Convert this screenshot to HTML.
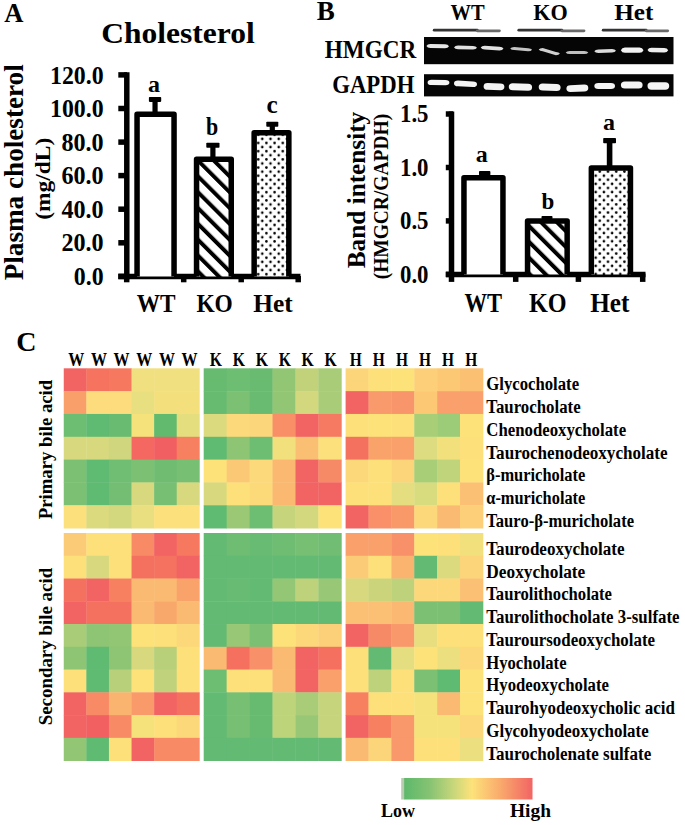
<!DOCTYPE html>
<html><head><meta charset="utf-8"><style>
html,body{margin:0;padding:0;background:#fff;width:685px;height:825px;overflow:hidden}
svg{display:block}
text{font-family:"Liberation Serif",serif;font-weight:bold}
</style></head><body>
<svg width="685" height="825" viewBox="0 0 685 825" style="font-family:'Liberation Serif',serif;font-weight:bold;">
<defs>
<filter id="bl" x="-10%" y="-50%" width="120%" height="200%"><feGaussianBlur stdDeviation="0.6"/></filter>
<pattern id="hatchA" patternUnits="userSpaceOnUse" x="2.1" width="11.2" height="11.2" patternTransform="rotate(-45)">
<rect x="-1" y="-1" width="13.2" height="13.2" fill="#fff"/><rect x="0" y="-1" width="4.0" height="13.2" fill="#000"/></pattern>
<pattern id="hatchB" patternUnits="userSpaceOnUse" x="-0.5" width="11.2" height="11.2" patternTransform="rotate(-45)">
<rect x="-1" y="-1" width="13.2" height="13.2" fill="#fff"/><rect x="0" y="-1" width="4.0" height="13.2" fill="#000"/></pattern>
<pattern id="dotsA" patternUnits="userSpaceOnUse" width="8.2" height="8.2" x="262.3" y="138.9">
<rect width="8.2" height="8.2" fill="#fff"/><circle cx="0" cy="0" r="1.3" fill="#000"/><circle cx="8.2" cy="0" r="1.3" fill="#000"/><circle cx="0" cy="8.2" r="1.3" fill="#000"/><circle cx="8.2" cy="8.2" r="1.3" fill="#000"/><circle cx="4.1" cy="4.1" r="1.3" fill="#000"/></pattern>
<pattern id="dotsB" patternUnits="userSpaceOnUse" width="8.2" height="8.2" x="603.9" y="175.7">
<rect width="8.2" height="8.2" fill="#fff"/><circle cx="0" cy="0" r="1.3" fill="#000"/><circle cx="8.2" cy="0" r="1.3" fill="#000"/><circle cx="0" cy="8.2" r="1.3" fill="#000"/><circle cx="8.2" cy="8.2" r="1.3" fill="#000"/><circle cx="4.1" cy="4.1" r="1.3" fill="#000"/></pattern>
<linearGradient id="cb" x1="0" x2="1" y1="0" y2="0">
<stop offset="0" stop-color="#5cb86b"/><stop offset="0.2" stop-color="#86c373"/><stop offset="0.4" stop-color="#cdd87b"/>
<stop offset="0.53" stop-color="#fde27a"/><stop offset="0.75" stop-color="#f9aa6c"/><stop offset="1" stop-color="#f26464"/></linearGradient></defs>
<rect width="685" height="825" fill="#fff"/>
<rect x="63.75" y="368.30" width="22.99" height="23.23" fill="#f26464"/><rect x="86.34" y="368.30" width="22.99" height="23.23" fill="#f5735f"/><rect x="108.93" y="368.30" width="22.99" height="23.23" fill="#f6795f"/><rect x="131.53" y="368.30" width="22.99" height="23.23" fill="#f1e07f"/><rect x="154.12" y="368.30" width="22.99" height="23.23" fill="#f1e07f"/><rect x="176.71" y="368.30" width="22.99" height="23.23" fill="#f1e07f"/><rect x="63.75" y="391.13" width="22.99" height="23.23" fill="#f99f6a"/><rect x="86.34" y="391.13" width="22.99" height="23.23" fill="#fcdc7c"/><rect x="108.93" y="391.13" width="22.99" height="23.23" fill="#fcdc7c"/><rect x="131.53" y="391.13" width="22.99" height="23.23" fill="#e8df80"/><rect x="154.12" y="391.13" width="22.99" height="23.23" fill="#f3e07d"/><rect x="176.71" y="391.13" width="22.99" height="23.23" fill="#f3e07d"/><rect x="63.75" y="413.96" width="22.99" height="23.23" fill="#6dbd72"/><rect x="86.34" y="413.96" width="22.99" height="23.23" fill="#5fba72"/><rect x="108.93" y="413.96" width="22.99" height="23.23" fill="#68bb70"/><rect x="131.53" y="413.96" width="22.99" height="23.23" fill="#f5e27a"/><rect x="154.12" y="413.96" width="22.99" height="23.23" fill="#62ba6f"/><rect x="176.71" y="413.96" width="22.99" height="23.23" fill="#e4de7e"/><rect x="63.75" y="436.79" width="22.99" height="23.23" fill="#d8d97e"/><rect x="86.34" y="436.79" width="22.99" height="23.23" fill="#d8d97e"/><rect x="108.93" y="436.79" width="22.99" height="23.23" fill="#cfd67d"/><rect x="131.53" y="436.79" width="22.99" height="23.23" fill="#f56862"/><rect x="154.12" y="436.79" width="22.99" height="23.23" fill="#f25f62"/><rect x="176.71" y="436.79" width="22.99" height="23.23" fill="#f6805f"/><rect x="63.75" y="459.61" width="22.99" height="23.23" fill="#7bc073"/><rect x="86.34" y="459.61" width="22.99" height="23.23" fill="#5fba72"/><rect x="108.93" y="459.61" width="22.99" height="23.23" fill="#70be73"/><rect x="131.53" y="459.61" width="22.99" height="23.23" fill="#7bc073"/><rect x="154.12" y="459.61" width="22.99" height="23.23" fill="#70bd72"/><rect x="176.71" y="459.61" width="22.99" height="23.23" fill="#76bf73"/><rect x="63.75" y="482.44" width="22.99" height="23.23" fill="#7bc073"/><rect x="86.34" y="482.44" width="22.99" height="23.23" fill="#5fba72"/><rect x="108.93" y="482.44" width="22.99" height="23.23" fill="#73be73"/><rect x="131.53" y="482.44" width="22.99" height="23.23" fill="#d8d97e"/><rect x="154.12" y="482.44" width="22.99" height="23.23" fill="#76bf73"/><rect x="176.71" y="482.44" width="22.99" height="23.23" fill="#d8d97e"/><rect x="63.75" y="505.27" width="22.99" height="23.23" fill="#fbe07c"/><rect x="86.34" y="505.27" width="22.99" height="23.23" fill="#dcda7e"/><rect x="108.93" y="505.27" width="22.99" height="23.23" fill="#d3d77d"/><rect x="131.53" y="505.27" width="22.99" height="23.23" fill="#e9de80"/><rect x="154.12" y="505.27" width="22.99" height="23.23" fill="#fbe07c"/><rect x="176.71" y="505.27" width="22.99" height="23.23" fill="#fbe07c"/><rect x="63.75" y="533.00" width="22.99" height="23.16" fill="#fccb78"/><rect x="86.34" y="533.00" width="22.99" height="23.16" fill="#fde07a"/><rect x="108.93" y="533.00" width="22.99" height="23.16" fill="#fde07a"/><rect x="131.53" y="533.00" width="22.99" height="23.16" fill="#f88a66"/><rect x="154.12" y="533.00" width="22.99" height="23.16" fill="#f26464"/><rect x="176.71" y="533.00" width="22.99" height="23.16" fill="#f6785f"/><rect x="63.75" y="555.76" width="22.99" height="23.16" fill="#fde07a"/><rect x="86.34" y="555.76" width="22.99" height="23.16" fill="#d8d97e"/><rect x="108.93" y="555.76" width="22.99" height="23.16" fill="#fde07a"/><rect x="131.53" y="555.76" width="22.99" height="23.16" fill="#f4705f"/><rect x="154.12" y="555.76" width="22.99" height="23.16" fill="#f4725f"/><rect x="176.71" y="555.76" width="22.99" height="23.16" fill="#f26464"/><rect x="63.75" y="578.52" width="22.99" height="23.16" fill="#f4705f"/><rect x="86.34" y="578.52" width="22.99" height="23.16" fill="#f26464"/><rect x="108.93" y="578.52" width="22.99" height="23.16" fill="#f6805f"/><rect x="131.53" y="578.52" width="22.99" height="23.16" fill="#fbba72"/><rect x="154.12" y="578.52" width="22.99" height="23.16" fill="#fbba72"/><rect x="176.71" y="578.52" width="22.99" height="23.16" fill="#f9a36b"/><rect x="63.75" y="601.28" width="22.99" height="23.16" fill="#f26464"/><rect x="86.34" y="601.28" width="22.99" height="23.16" fill="#f4705f"/><rect x="108.93" y="601.28" width="22.99" height="23.16" fill="#f4705f"/><rect x="131.53" y="601.28" width="22.99" height="23.16" fill="#fbba72"/><rect x="154.12" y="601.28" width="22.99" height="23.16" fill="#f9a86c"/><rect x="176.71" y="601.28" width="22.99" height="23.16" fill="#fbba72"/><rect x="63.75" y="624.04" width="22.99" height="23.16" fill="#a8cc77"/><rect x="86.34" y="624.04" width="22.99" height="23.16" fill="#8dc575"/><rect x="108.93" y="624.04" width="22.99" height="23.16" fill="#92c674"/><rect x="131.53" y="624.04" width="22.99" height="23.16" fill="#fde27a"/><rect x="154.12" y="624.04" width="22.99" height="23.16" fill="#fde07a"/><rect x="176.71" y="624.04" width="22.99" height="23.16" fill="#fcd87a"/><rect x="63.75" y="646.80" width="22.99" height="23.16" fill="#8dc575"/><rect x="86.34" y="646.80" width="22.99" height="23.16" fill="#5fba72"/><rect x="108.93" y="646.80" width="22.99" height="23.16" fill="#8dc575"/><rect x="131.53" y="646.80" width="22.99" height="23.16" fill="#d8d97e"/><rect x="154.12" y="646.80" width="22.99" height="23.16" fill="#b8d07a"/><rect x="176.71" y="646.80" width="22.99" height="23.16" fill="#fde07a"/><rect x="63.75" y="669.56" width="22.99" height="23.16" fill="#fde07a"/><rect x="86.34" y="669.56" width="22.99" height="23.16" fill="#5fba72"/><rect x="108.93" y="669.56" width="22.99" height="23.16" fill="#b8d07a"/><rect x="131.53" y="669.56" width="22.99" height="23.16" fill="#fde27a"/><rect x="154.12" y="669.56" width="22.99" height="23.16" fill="#c0d27b"/><rect x="176.71" y="669.56" width="22.99" height="23.16" fill="#fde07a"/><rect x="63.75" y="692.32" width="22.99" height="23.16" fill="#f26464"/><rect x="86.34" y="692.32" width="22.99" height="23.16" fill="#f88a66"/><rect x="108.93" y="692.32" width="22.99" height="23.16" fill="#fbb470"/><rect x="131.53" y="692.32" width="22.99" height="23.16" fill="#f99a6b"/><rect x="154.12" y="692.32" width="22.99" height="23.16" fill="#f26464"/><rect x="176.71" y="692.32" width="22.99" height="23.16" fill="#f4705f"/><rect x="63.75" y="715.08" width="22.99" height="23.16" fill="#f26464"/><rect x="86.34" y="715.08" width="22.99" height="23.16" fill="#f26062"/><rect x="108.93" y="715.08" width="22.99" height="23.16" fill="#f88a66"/><rect x="131.53" y="715.08" width="22.99" height="23.16" fill="#f5e27a"/><rect x="154.12" y="715.08" width="22.99" height="23.16" fill="#fde07a"/><rect x="176.71" y="715.08" width="22.99" height="23.16" fill="#fcd87a"/><rect x="63.75" y="737.84" width="22.99" height="23.16" fill="#92c674"/><rect x="86.34" y="737.84" width="22.99" height="23.16" fill="#5fba72"/><rect x="108.93" y="737.84" width="22.99" height="23.16" fill="#fde07a"/><rect x="131.53" y="737.84" width="22.99" height="23.16" fill="#f26464"/><rect x="154.12" y="737.84" width="22.99" height="23.16" fill="#f88a66"/><rect x="176.71" y="737.84" width="22.99" height="23.16" fill="#f88a66"/><rect x="203.70" y="368.30" width="23.33" height="23.23" fill="#66bb70"/><rect x="226.63" y="368.30" width="23.33" height="23.23" fill="#6dbd72"/><rect x="249.57" y="368.30" width="23.33" height="23.23" fill="#68bb70"/><rect x="272.50" y="368.30" width="23.33" height="23.23" fill="#92c674"/><rect x="295.43" y="368.30" width="23.33" height="23.23" fill="#c2d27b"/><rect x="318.37" y="368.30" width="23.33" height="23.23" fill="#a8cc77"/><rect x="203.70" y="391.13" width="23.33" height="23.23" fill="#66bb70"/><rect x="226.63" y="391.13" width="23.33" height="23.23" fill="#7bc073"/><rect x="249.57" y="391.13" width="23.33" height="23.23" fill="#68bb70"/><rect x="272.50" y="391.13" width="23.33" height="23.23" fill="#92c674"/><rect x="295.43" y="391.13" width="23.33" height="23.23" fill="#d3d77d"/><rect x="318.37" y="391.13" width="23.33" height="23.23" fill="#a8cc77"/><rect x="203.70" y="413.96" width="23.33" height="23.23" fill="#dcda7e"/><rect x="226.63" y="413.96" width="23.33" height="23.23" fill="#fcd97a"/><rect x="249.57" y="413.96" width="23.33" height="23.23" fill="#fcd67a"/><rect x="272.50" y="413.96" width="23.33" height="23.23" fill="#f88f66"/><rect x="295.43" y="413.96" width="23.33" height="23.23" fill="#f26464"/><rect x="318.37" y="413.96" width="23.33" height="23.23" fill="#f67a62"/><rect x="203.70" y="436.79" width="23.33" height="23.23" fill="#5fba72"/><rect x="226.63" y="436.79" width="23.33" height="23.23" fill="#8dc575"/><rect x="249.57" y="436.79" width="23.33" height="23.23" fill="#6dbd72"/><rect x="272.50" y="436.79" width="23.33" height="23.23" fill="#f1e07c"/><rect x="295.43" y="436.79" width="23.33" height="23.23" fill="#fbbf73"/><rect x="318.37" y="436.79" width="23.33" height="23.23" fill="#fbe07c"/><rect x="203.70" y="459.61" width="23.33" height="23.23" fill="#fde27a"/><rect x="226.63" y="459.61" width="23.33" height="23.23" fill="#fbc875"/><rect x="249.57" y="459.61" width="23.33" height="23.23" fill="#fcd97a"/><rect x="272.50" y="459.61" width="23.33" height="23.23" fill="#fbb870"/><rect x="295.43" y="459.61" width="23.33" height="23.23" fill="#f26464"/><rect x="318.37" y="459.61" width="23.33" height="23.23" fill="#f78a66"/><rect x="203.70" y="482.44" width="23.33" height="23.23" fill="#d8d97e"/><rect x="226.63" y="482.44" width="23.33" height="23.23" fill="#fde07a"/><rect x="249.57" y="482.44" width="23.33" height="23.23" fill="#fcda7a"/><rect x="272.50" y="482.44" width="23.33" height="23.23" fill="#fbb870"/><rect x="295.43" y="482.44" width="23.33" height="23.23" fill="#f26464"/><rect x="318.37" y="482.44" width="23.33" height="23.23" fill="#f26464"/><rect x="203.70" y="505.27" width="23.33" height="23.23" fill="#5fba72"/><rect x="226.63" y="505.27" width="23.33" height="23.23" fill="#9ac875"/><rect x="249.57" y="505.27" width="23.33" height="23.23" fill="#6dbd72"/><rect x="272.50" y="505.27" width="23.33" height="23.23" fill="#c6d47c"/><rect x="295.43" y="505.27" width="23.33" height="23.23" fill="#d3d77d"/><rect x="318.37" y="505.27" width="23.33" height="23.23" fill="#fde27a"/><rect x="203.70" y="533.00" width="23.33" height="23.16" fill="#62ba73"/><rect x="226.63" y="533.00" width="23.33" height="23.16" fill="#6fbd73"/><rect x="249.57" y="533.00" width="23.33" height="23.16" fill="#68bb72"/><rect x="272.50" y="533.00" width="23.33" height="23.16" fill="#6fbd73"/><rect x="295.43" y="533.00" width="23.33" height="23.16" fill="#76bf73"/><rect x="318.37" y="533.00" width="23.33" height="23.16" fill="#70bd73"/><rect x="203.70" y="555.76" width="23.33" height="23.16" fill="#62ba73"/><rect x="226.63" y="555.76" width="23.33" height="23.16" fill="#62ba73"/><rect x="249.57" y="555.76" width="23.33" height="23.16" fill="#62ba73"/><rect x="272.50" y="555.76" width="23.33" height="23.16" fill="#62ba73"/><rect x="295.43" y="555.76" width="23.33" height="23.16" fill="#62ba73"/><rect x="318.37" y="555.76" width="23.33" height="23.16" fill="#62ba73"/><rect x="203.70" y="578.52" width="23.33" height="23.16" fill="#62ba73"/><rect x="226.63" y="578.52" width="23.33" height="23.16" fill="#68bb72"/><rect x="249.57" y="578.52" width="23.33" height="23.16" fill="#62ba73"/><rect x="272.50" y="578.52" width="23.33" height="23.16" fill="#94c775"/><rect x="295.43" y="578.52" width="23.33" height="23.16" fill="#bdd27b"/><rect x="318.37" y="578.52" width="23.33" height="23.16" fill="#98c875"/><rect x="203.70" y="601.28" width="23.33" height="23.16" fill="#62ba73"/><rect x="226.63" y="601.28" width="23.33" height="23.16" fill="#62ba73"/><rect x="249.57" y="601.28" width="23.33" height="23.16" fill="#62ba73"/><rect x="272.50" y="601.28" width="23.33" height="23.16" fill="#62ba73"/><rect x="295.43" y="601.28" width="23.33" height="23.16" fill="#62ba73"/><rect x="318.37" y="601.28" width="23.33" height="23.16" fill="#62ba73"/><rect x="203.70" y="624.04" width="23.33" height="23.16" fill="#62ba73"/><rect x="226.63" y="624.04" width="23.33" height="23.16" fill="#98c875"/><rect x="249.57" y="624.04" width="23.33" height="23.16" fill="#7bc073"/><rect x="272.50" y="624.04" width="23.33" height="23.16" fill="#fde27a"/><rect x="295.43" y="624.04" width="23.33" height="23.16" fill="#fcd87a"/><rect x="318.37" y="624.04" width="23.33" height="23.16" fill="#fcd078"/><rect x="203.70" y="646.80" width="23.33" height="23.16" fill="#fbba72"/><rect x="226.63" y="646.80" width="23.33" height="23.16" fill="#f5705f"/><rect x="249.57" y="646.80" width="23.33" height="23.16" fill="#f8906a"/><rect x="272.50" y="646.80" width="23.33" height="23.16" fill="#fbba72"/><rect x="295.43" y="646.80" width="23.33" height="23.16" fill="#f26464"/><rect x="318.37" y="646.80" width="23.33" height="23.16" fill="#f5705f"/><rect x="203.70" y="669.56" width="23.33" height="23.16" fill="#6dbd72"/><rect x="226.63" y="669.56" width="23.33" height="23.16" fill="#fde07a"/><rect x="249.57" y="669.56" width="23.33" height="23.16" fill="#fde07a"/><rect x="272.50" y="669.56" width="23.33" height="23.16" fill="#fbba72"/><rect x="295.43" y="669.56" width="23.33" height="23.16" fill="#f26464"/><rect x="318.37" y="669.56" width="23.33" height="23.16" fill="#f9a06b"/><rect x="203.70" y="692.32" width="23.33" height="23.16" fill="#62ba73"/><rect x="226.63" y="692.32" width="23.33" height="23.16" fill="#76bf73"/><rect x="249.57" y="692.32" width="23.33" height="23.16" fill="#66bb70"/><rect x="272.50" y="692.32" width="23.33" height="23.16" fill="#bdd47b"/><rect x="295.43" y="692.32" width="23.33" height="23.16" fill="#a8cc77"/><rect x="318.37" y="692.32" width="23.33" height="23.16" fill="#c6d47c"/><rect x="203.70" y="715.08" width="23.33" height="23.16" fill="#62ba73"/><rect x="226.63" y="715.08" width="23.33" height="23.16" fill="#76bf73"/><rect x="249.57" y="715.08" width="23.33" height="23.16" fill="#66bb70"/><rect x="272.50" y="715.08" width="23.33" height="23.16" fill="#bdd47b"/><rect x="295.43" y="715.08" width="23.33" height="23.16" fill="#98c875"/><rect x="318.37" y="715.08" width="23.33" height="23.16" fill="#c6d47c"/><rect x="203.70" y="737.84" width="23.33" height="23.16" fill="#62ba73"/><rect x="226.63" y="737.84" width="23.33" height="23.16" fill="#62ba73"/><rect x="249.57" y="737.84" width="23.33" height="23.16" fill="#62ba73"/><rect x="272.50" y="737.84" width="23.33" height="23.16" fill="#62ba73"/><rect x="295.43" y="737.84" width="23.33" height="23.16" fill="#62ba73"/><rect x="318.37" y="737.84" width="23.33" height="23.16" fill="#62ba73"/><rect x="345.60" y="368.30" width="23.28" height="23.23" fill="#fcd47a"/><rect x="368.48" y="368.30" width="23.28" height="23.23" fill="#fde07a"/><rect x="391.37" y="368.30" width="23.28" height="23.23" fill="#fde27a"/><rect x="414.25" y="368.30" width="23.28" height="23.23" fill="#fccf78"/><rect x="437.13" y="368.30" width="23.28" height="23.23" fill="#fcc874"/><rect x="460.02" y="368.30" width="23.28" height="23.23" fill="#fbc072"/><rect x="345.60" y="391.13" width="23.28" height="23.23" fill="#f26464"/><rect x="368.48" y="391.13" width="23.28" height="23.23" fill="#f89a6b"/><rect x="391.37" y="391.13" width="23.28" height="23.23" fill="#f9956a"/><rect x="414.25" y="391.13" width="23.28" height="23.23" fill="#fcc874"/><rect x="437.13" y="391.13" width="23.28" height="23.23" fill="#f9a06c"/><rect x="460.02" y="391.13" width="23.28" height="23.23" fill="#f9a06c"/><rect x="345.60" y="413.96" width="23.28" height="23.23" fill="#fde07a"/><rect x="368.48" y="413.96" width="23.28" height="23.23" fill="#fde27a"/><rect x="391.37" y="413.96" width="23.28" height="23.23" fill="#fde07a"/><rect x="414.25" y="413.96" width="23.28" height="23.23" fill="#a8cf78"/><rect x="437.13" y="413.96" width="23.28" height="23.23" fill="#9ccc77"/><rect x="460.02" y="413.96" width="23.28" height="23.23" fill="#fde27a"/><rect x="345.60" y="436.79" width="23.28" height="23.23" fill="#f4705f"/><rect x="368.48" y="436.79" width="23.28" height="23.23" fill="#f9a36b"/><rect x="391.37" y="436.79" width="23.28" height="23.23" fill="#f9a06b"/><rect x="414.25" y="436.79" width="23.28" height="23.23" fill="#dedc80"/><rect x="437.13" y="436.79" width="23.28" height="23.23" fill="#f1e07c"/><rect x="460.02" y="436.79" width="23.28" height="23.23" fill="#fde07a"/><rect x="345.60" y="459.61" width="23.28" height="23.23" fill="#fcd87a"/><rect x="368.48" y="459.61" width="23.28" height="23.23" fill="#fde07a"/><rect x="391.37" y="459.61" width="23.28" height="23.23" fill="#fcd47a"/><rect x="414.25" y="459.61" width="23.28" height="23.23" fill="#a8cf78"/><rect x="437.13" y="459.61" width="23.28" height="23.23" fill="#c0d47b"/><rect x="460.02" y="459.61" width="23.28" height="23.23" fill="#fde27a"/><rect x="345.60" y="482.44" width="23.28" height="23.23" fill="#fde07a"/><rect x="368.48" y="482.44" width="23.28" height="23.23" fill="#fde07a"/><rect x="391.37" y="482.44" width="23.28" height="23.23" fill="#e4de80"/><rect x="414.25" y="482.44" width="23.28" height="23.23" fill="#d8dc7e"/><rect x="437.13" y="482.44" width="23.28" height="23.23" fill="#fde07a"/><rect x="460.02" y="482.44" width="23.28" height="23.23" fill="#fcc074"/><rect x="345.60" y="505.27" width="23.28" height="23.23" fill="#f26464"/><rect x="368.48" y="505.27" width="23.28" height="23.23" fill="#f9906a"/><rect x="391.37" y="505.27" width="23.28" height="23.23" fill="#f99868"/><rect x="414.25" y="505.27" width="23.28" height="23.23" fill="#fcd87a"/><rect x="437.13" y="505.27" width="23.28" height="23.23" fill="#fbba72"/><rect x="460.02" y="505.27" width="23.28" height="23.23" fill="#fccf78"/><rect x="345.60" y="533.00" width="23.28" height="23.16" fill="#f9a06b"/><rect x="368.48" y="533.00" width="23.28" height="23.16" fill="#f9a06b"/><rect x="391.37" y="533.00" width="23.28" height="23.16" fill="#f8906a"/><rect x="414.25" y="533.00" width="23.28" height="23.16" fill="#fde27a"/><rect x="437.13" y="533.00" width="23.28" height="23.16" fill="#fde07a"/><rect x="460.02" y="533.00" width="23.28" height="23.16" fill="#f1e07c"/><rect x="345.60" y="555.76" width="23.28" height="23.16" fill="#fccb78"/><rect x="368.48" y="555.76" width="23.28" height="23.16" fill="#fde07a"/><rect x="391.37" y="555.76" width="23.28" height="23.16" fill="#fbb470"/><rect x="414.25" y="555.76" width="23.28" height="23.16" fill="#62ba73"/><rect x="437.13" y="555.76" width="23.28" height="23.16" fill="#dcda7e"/><rect x="460.02" y="555.76" width="23.28" height="23.16" fill="#fcd47a"/><rect x="345.60" y="578.52" width="23.28" height="23.16" fill="#d8d97e"/><rect x="368.48" y="578.52" width="23.28" height="23.16" fill="#ccd47b"/><rect x="391.37" y="578.52" width="23.28" height="23.16" fill="#bdd27b"/><rect x="414.25" y="578.52" width="23.28" height="23.16" fill="#fcd87a"/><rect x="437.13" y="578.52" width="23.28" height="23.16" fill="#fcd87a"/><rect x="460.02" y="578.52" width="23.28" height="23.16" fill="#fbc074"/><rect x="345.60" y="601.28" width="23.28" height="23.16" fill="#fbc074"/><rect x="368.48" y="601.28" width="23.28" height="23.16" fill="#fbc074"/><rect x="391.37" y="601.28" width="23.28" height="23.16" fill="#fbb872"/><rect x="414.25" y="601.28" width="23.28" height="23.16" fill="#7bc073"/><rect x="437.13" y="601.28" width="23.28" height="23.16" fill="#7bc073"/><rect x="460.02" y="601.28" width="23.28" height="23.16" fill="#62ba73"/><rect x="345.60" y="624.04" width="23.28" height="23.16" fill="#f26464"/><rect x="368.48" y="624.04" width="23.28" height="23.16" fill="#f78a66"/><rect x="391.37" y="624.04" width="23.28" height="23.16" fill="#f9986a"/><rect x="414.25" y="624.04" width="23.28" height="23.16" fill="#e8de80"/><rect x="437.13" y="624.04" width="23.28" height="23.16" fill="#fde07a"/><rect x="460.02" y="624.04" width="23.28" height="23.16" fill="#fde07a"/><rect x="345.60" y="646.80" width="23.28" height="23.16" fill="#fde07a"/><rect x="368.48" y="646.80" width="23.28" height="23.16" fill="#62ba73"/><rect x="391.37" y="646.80" width="23.28" height="23.16" fill="#e4de80"/><rect x="414.25" y="646.80" width="23.28" height="23.16" fill="#fde27a"/><rect x="437.13" y="646.80" width="23.28" height="23.16" fill="#ecdf80"/><rect x="460.02" y="646.80" width="23.28" height="23.16" fill="#fcd87a"/><rect x="345.60" y="669.56" width="23.28" height="23.16" fill="#fde07a"/><rect x="368.48" y="669.56" width="23.28" height="23.16" fill="#bdd27b"/><rect x="391.37" y="669.56" width="23.28" height="23.16" fill="#fde07a"/><rect x="414.25" y="669.56" width="23.28" height="23.16" fill="#7bc073"/><rect x="437.13" y="669.56" width="23.28" height="23.16" fill="#5fba72"/><rect x="460.02" y="669.56" width="23.28" height="23.16" fill="#fde27a"/><rect x="345.60" y="692.32" width="23.28" height="23.16" fill="#f6805f"/><rect x="368.48" y="692.32" width="23.28" height="23.16" fill="#fde07a"/><rect x="391.37" y="692.32" width="23.28" height="23.16" fill="#fde07a"/><rect x="414.25" y="692.32" width="23.28" height="23.16" fill="#f5e27a"/><rect x="437.13" y="692.32" width="23.28" height="23.16" fill="#fbba72"/><rect x="460.02" y="692.32" width="23.28" height="23.16" fill="#fde27a"/><rect x="345.60" y="715.08" width="23.28" height="23.16" fill="#f26464"/><rect x="368.48" y="715.08" width="23.28" height="23.16" fill="#f6805f"/><rect x="391.37" y="715.08" width="23.28" height="23.16" fill="#f9986a"/><rect x="414.25" y="715.08" width="23.28" height="23.16" fill="#f5e27a"/><rect x="437.13" y="715.08" width="23.28" height="23.16" fill="#f5e27a"/><rect x="460.02" y="715.08" width="23.28" height="23.16" fill="#fcd87a"/><rect x="345.60" y="737.84" width="23.28" height="23.16" fill="#fbba72"/><rect x="368.48" y="737.84" width="23.28" height="23.16" fill="#fcd47a"/><rect x="391.37" y="737.84" width="23.28" height="23.16" fill="#f9986a"/><rect x="414.25" y="737.84" width="23.28" height="23.16" fill="#fde07a"/><rect x="437.13" y="737.84" width="23.28" height="23.16" fill="#fde07a"/><rect x="460.02" y="737.84" width="23.28" height="23.16" fill="#ecdf80"/><rect x="404" y="778" width="128.5" height="21.5" fill="url(#cb)"/><rect x="401.2" y="778" width="3" height="21.5" fill="#b8cdb0"/>
<line x1="118.3" y1="276.4" x2="127" y2="276.4" stroke="#000" stroke-width="5.5"/><line x1="118.3" y1="242.8" x2="127" y2="242.8" stroke="#000" stroke-width="5.5"/><line x1="118.3" y1="209.2" x2="127" y2="209.2" stroke="#000" stroke-width="5.5"/><line x1="118.3" y1="175.6" x2="127" y2="175.6" stroke="#000" stroke-width="5.5"/><line x1="118.3" y1="142.1" x2="127" y2="142.1" stroke="#000" stroke-width="5.5"/><line x1="118.3" y1="108.5" x2="127" y2="108.5" stroke="#000" stroke-width="5.5"/><line x1="118.3" y1="74.9" x2="127" y2="74.9" stroke="#000" stroke-width="5.5"/><line x1="126.8" y1="72.2" x2="126.8" y2="279.2" stroke="#000" stroke-width="5.5"/><line x1="118.3" y1="276.4" x2="300.5" y2="276.4" stroke="#000" stroke-width="5.5"/><line x1="126.7" y1="276" x2="126.7" y2="282.3" stroke="#000" stroke-width="5.5"/><line x1="183.7" y1="276" x2="183.7" y2="282.3" stroke="#000" stroke-width="5.5"/><line x1="241.2" y1="276" x2="241.2" y2="282.3" stroke="#000" stroke-width="5.5"/><line x1="298.2" y1="276" x2="298.2" y2="282.3" stroke="#000" stroke-width="5.5"/><line x1="155.05" y1="113.40" x2="155.05" y2="99.40" stroke="#000" stroke-width="5.2"/><rect x="148.90" y="96.90" width="12.30" height="5.0" rx="0.8" fill="#000"/><path d="M137.05,276.4 V114.15 H174.05 V276.4" fill="#fff" stroke="#000" stroke-width="5.5" stroke-linejoin="round"/><line x1="212.90" y1="158.60" x2="212.90" y2="145.30" stroke="#000" stroke-width="5.2"/><rect x="206.30" y="142.80" width="13.20" height="5.0" rx="0.8" fill="#000"/><path d="M196.55,276.4 V159.35 H231.25 V276.4" fill="url(#hatchA)" stroke="#000" stroke-width="5.5" stroke-linejoin="round"/><line x1="272.30" y1="132.00" x2="272.30" y2="124.30" stroke="#000" stroke-width="5.2"/><rect x="266.30" y="121.80" width="12.00" height="5.0" rx="0.8" fill="#000"/><path d="M254.15,276.4 V132.75 H288.85 V276.4" fill="url(#dotsA)" stroke="#000" stroke-width="5.5" stroke-linejoin="round"/>
<line x1="434.2" y1="30.2" x2="477.3" y2="30.2" stroke="#333" stroke-width="2.8" stroke-linecap="round"/><line x1="477.3" y1="30.8" x2="499.4" y2="30.8" stroke="#6a6a6a" stroke-width="2.8" stroke-linecap="round"/><line x1="518.8" y1="30.2" x2="561.9" y2="30.2" stroke="#333" stroke-width="2.8" stroke-linecap="round"/><line x1="561.9" y1="30.8" x2="584" y2="30.8" stroke="#6a6a6a" stroke-width="2.8" stroke-linecap="round"/><line x1="603.2" y1="30.2" x2="646.2" y2="30.2" stroke="#333" stroke-width="2.8" stroke-linecap="round"/><line x1="646.2" y1="30.8" x2="667.7" y2="30.8" stroke="#6a6a6a" stroke-width="2.8" stroke-linecap="round"/><rect x="424" y="37" width="249.5" height="27.2" fill="#050505"/><rect x="424" y="74.2" width="249.5" height="22.2" fill="#050505"/><g filter="url(#bl)"><path d="M426.4,46.0 Q427.4,44.0 430.4,44.0 L445.0,44.3 Q448.0,44.3 449.0,46.3 Q448.0,48.3 445.0,48.3 L430.4,48.0 Q427.4,48.0 426.4,46.0Z" fill="#e8e8e8"/><path d="M454,47.4 Q455,45.6 458,45.6 L473,46.0 Q476,46.0 477,47.8 Q476,49.599999999999994 473,49.599999999999994 L458,49.199999999999996 Q455,49.199999999999996 454,47.4Z" fill="#e0e0e0"/><path d="M480.7,47.6 Q481.7,45.7 484.7,45.7 L499.5,46.7 Q502.5,46.7 503.5,48.6 Q502.5,50.5 499.5,50.5 L484.7,49.5 Q481.7,49.5 480.7,47.6Z" fill="#e2e2e2"/><path d="M510.2,48.4 Q511.2,46.9 514.2,46.9 L528.1,48.3 Q531.1,48.3 532.1,49.8 Q531.1,51.3 528.1,51.3 L514.2,49.9 Q511.2,49.9 510.2,48.4Z" fill="#c4c4c4"/><path d="M538.7,49.6 Q539.7,47.9 542.7,47.9 L555.9,51.9 Q558.9,51.9 559.9,53.6 Q558.9,55.300000000000004 555.9,55.300000000000004 L542.7,51.300000000000004 Q539.7,51.300000000000004 538.7,49.6Z" fill="#d0d0d0"/><path d="M565.7,52.6 Q566.7,51.1 569.7,51.1 L584.3,51.1 Q587.3,51.1 588.3,52.6 Q587.3,54.1 584.3,54.1 L569.7,54.1 Q566.7,54.1 565.7,52.6Z" fill="#c0c0c0"/><path d="M594.3,51.2 Q595.3,49.400000000000006 598.3,49.400000000000006 L612,49.0 Q615,49.0 616,50.8 Q615,52.599999999999994 612,52.599999999999994 L598.3,53.0 Q595.3,53.0 594.3,51.2Z" fill="#dcdcdc"/><path d="M620.9,50.2 Q621.9,47.6 624.9,47.6 L639.5,47.6 Q642.5,47.6 643.5,50.2 Q642.5,52.800000000000004 639.5,52.800000000000004 L624.9,52.800000000000004 Q621.9,52.800000000000004 620.9,50.2Z" fill="#f2f2f2"/><path d="M647.5,50 Q648.5,47.7 651.5,47.7 L664.2,47.900000000000006 Q667.2,47.900000000000006 668.2,50.2 Q667.2,52.5 664.2,52.5 L651.5,52.3 Q648.5,52.3 647.5,50Z" fill="#eeeeee"/><path d="M427.6,82.4 Q427.6,79.7 431.6,79.7 L445.4,79.89999999999999 Q449.4,79.89999999999999 449.4,82.6 Q449.4,85.3 445.4,85.3 L431.6,85.10000000000001 Q427.6,85.10000000000001 427.6,82.4Z" fill="#f4f4f4"/><path d="M454,83.4 Q454,80.60000000000001 458,80.60000000000001 L473,81.4 Q477,81.4 477,84.2 Q477,87.0 473,87.0 L458,86.2 Q454,86.2 454,83.4Z" fill="#f4f4f4"/><path d="M483.6,86.4 Q483.6,83.0 487.6,83.0 L500.4,83.39999999999999 Q504.4,83.39999999999999 504.4,86.8 Q504.4,90.2 500.4,90.2 L487.6,89.80000000000001 Q483.6,89.80000000000001 483.6,86.4Z" fill="#f4f4f4"/><path d="M508.8,86.8 Q508.8,83.3 512.8,83.3 L528.1,83.7 Q532.1,83.7 532.1,87.2 Q532.1,90.7 528.1,90.7 L512.8,90.3 Q508.8,90.3 508.8,86.8Z" fill="#f4f4f4"/><path d="M538.7,87 Q538.7,83.5 542.7,83.5 L556.6,83.9 Q560.6,83.9 560.6,87.4 Q560.6,90.9 556.6,90.9 L542.7,90.5 Q538.7,90.5 538.7,87Z" fill="#f4f4f4"/><path d="M566.4,88.6 Q566.4,85.19999999999999 570.4,85.19999999999999 L584.3,84.6 Q588.3,84.6 588.3,88 Q588.3,91.4 584.3,91.4 L570.4,92.0 Q566.4,92.0 566.4,88.6Z" fill="#f4f4f4"/><path d="M594.3,86 Q594.3,83.0 598.3,83.0 L611,83.0 Q615,83.0 615,86 Q615,89.0 611,89.0 L598.3,89.0 Q594.3,89.0 594.3,86Z" fill="#f4f4f4"/><path d="M620.9,85 Q620.9,81.5 624.9,81.5 L638.6,81.5 Q642.6,81.5 642.6,85 Q642.6,88.5 638.6,88.5 L624.9,88.5 Q620.9,88.5 620.9,85Z" fill="#f4f4f4"/><path d="M647.5,86 Q647.5,82.3 651.5,82.3 L665.2,82.3 Q669.2,82.3 669.2,86 Q669.2,89.7 665.2,89.7 L651.5,89.7 Q647.5,89.7 647.5,86Z" fill="#f4f4f4"/></g><line x1="445.8" y1="274.4" x2="453" y2="274.4" stroke="#000" stroke-width="5.5"/><line x1="445.8" y1="220.9" x2="453" y2="220.9" stroke="#000" stroke-width="5.5"/><line x1="445.8" y1="167.5" x2="453" y2="167.5" stroke="#000" stroke-width="5.5"/><line x1="445.8" y1="114.0" x2="453" y2="114.0" stroke="#000" stroke-width="5.5"/><line x1="451.5" y1="111.4" x2="451.5" y2="277" stroke="#000" stroke-width="5.5"/><line x1="445.8" y1="274.4" x2="645.5" y2="274.4" stroke="#000" stroke-width="5.5"/><line x1="451.5" y1="273.5" x2="451.5" y2="281.9" stroke="#000" stroke-width="5.5"/><line x1="515.7" y1="273.5" x2="515.7" y2="281.9" stroke="#000" stroke-width="5.5"/><line x1="578.4" y1="273.5" x2="578.4" y2="281.9" stroke="#000" stroke-width="5.5"/><line x1="642.7" y1="273.5" x2="642.7" y2="281.9" stroke="#000" stroke-width="5.5"/><line x1="484.70" y1="177.00" x2="484.70" y2="173.20" stroke="#000" stroke-width="5.2"/><rect x="479.00" y="171.10" width="11.40" height="4.2" rx="0.8" fill="#000"/><path d="M463.95,274.4 V177.75 H502.95 V274.4" fill="#fff" stroke="#000" stroke-width="5.5" stroke-linejoin="round"/><line x1="547.00" y1="220.30" x2="547.00" y2="217.60" stroke="#000" stroke-width="5.2"/><rect x="541.50" y="216.10" width="11.00" height="3" rx="0.8" fill="#000"/><path d="M527.55,274.4 V221.05 H567.15 V274.4" fill="url(#hatchB)" stroke="#000" stroke-width="5.5" stroke-linejoin="round"/><line x1="609.60" y1="167.20" x2="609.60" y2="140.60" stroke="#000" stroke-width="5.6"/><rect x="603.20" y="138.00" width="12.80" height="5.2" rx="0.8" fill="#000"/><path d="M591.35,274.4 V167.95 H630.45 V274.4" fill="url(#dotsB)" stroke="#000" stroke-width="5.5" stroke-linejoin="round"/>
<text x="76.20" y="365.6" font-size="18" text-anchor="middle" textLength="16" lengthAdjust="spacingAndGlyphs" fill="#000">W</text><text x="98.88" y="365.6" font-size="18" text-anchor="middle" textLength="16" lengthAdjust="spacingAndGlyphs" fill="#000">W</text><text x="121.56" y="365.6" font-size="18" text-anchor="middle" textLength="16" lengthAdjust="spacingAndGlyphs" fill="#000">W</text><text x="144.24" y="365.6" font-size="18" text-anchor="middle" textLength="16" lengthAdjust="spacingAndGlyphs" fill="#000">W</text><text x="166.92" y="365.6" font-size="18" text-anchor="middle" textLength="16" lengthAdjust="spacingAndGlyphs" fill="#000">W</text><text x="189.60" y="365.6" font-size="18" text-anchor="middle" textLength="16" lengthAdjust="spacingAndGlyphs" fill="#000">W</text><text x="215.90" y="365.6" font-size="18" text-anchor="middle" textLength="12.2" lengthAdjust="spacingAndGlyphs" fill="#000">K</text><text x="238.85" y="365.6" font-size="18" text-anchor="middle" textLength="12.2" lengthAdjust="spacingAndGlyphs" fill="#000">K</text><text x="261.80" y="365.6" font-size="18" text-anchor="middle" textLength="12.2" lengthAdjust="spacingAndGlyphs" fill="#000">K</text><text x="284.75" y="365.6" font-size="18" text-anchor="middle" textLength="12.2" lengthAdjust="spacingAndGlyphs" fill="#000">K</text><text x="307.70" y="365.6" font-size="18" text-anchor="middle" textLength="12.2" lengthAdjust="spacingAndGlyphs" fill="#000">K</text><text x="330.65" y="365.6" font-size="18" text-anchor="middle" textLength="12.2" lengthAdjust="spacingAndGlyphs" fill="#000">K</text><text x="355.70" y="365.6" font-size="18" text-anchor="middle" textLength="12" lengthAdjust="spacingAndGlyphs" fill="#000">H</text><text x="378.80" y="365.6" font-size="18" text-anchor="middle" textLength="12" lengthAdjust="spacingAndGlyphs" fill="#000">H</text><text x="401.90" y="365.6" font-size="18" text-anchor="middle" textLength="12" lengthAdjust="spacingAndGlyphs" fill="#000">H</text><text x="425.00" y="365.6" font-size="18" text-anchor="middle" textLength="12" lengthAdjust="spacingAndGlyphs" fill="#000">H</text><text x="448.10" y="365.6" font-size="18" text-anchor="middle" textLength="12" lengthAdjust="spacingAndGlyphs" fill="#000">H</text><text x="471.20" y="365.6" font-size="18" text-anchor="middle" textLength="12" lengthAdjust="spacingAndGlyphs" fill="#000">H</text><text x="486.3" y="390.1" font-size="18.5" textLength="92.8" lengthAdjust="spacingAndGlyphs" fill="#000">Glycocholate</text><text x="486.3" y="413.0" font-size="18.5" textLength="94.3" lengthAdjust="spacingAndGlyphs" fill="#000">Taurocholate</text><text x="486.3" y="435.8" font-size="18.5" textLength="139.8" lengthAdjust="spacingAndGlyphs" fill="#000">Chenodeoxycholate</text><text x="486.3" y="458.6" font-size="18.5" textLength="181.3" lengthAdjust="spacingAndGlyphs" fill="#000">Taurochenodeoxycholate</text><text x="486.3" y="481.4" font-size="18.5" textLength="99.0" lengthAdjust="spacingAndGlyphs" fill="#000">&#946;-muricholate</text><text x="486.3" y="504.3" font-size="18.5" textLength="99.0" lengthAdjust="spacingAndGlyphs" fill="#000">&#945;-muricholate</text><text x="486.3" y="527.1" font-size="18.5" textLength="147.7" lengthAdjust="spacingAndGlyphs" fill="#000">Tauro-&#946;-muricholate</text><text x="486.3" y="554.8" font-size="18.5" textLength="138.3" lengthAdjust="spacingAndGlyphs" fill="#000">Taurodeoxycholate</text><text x="486.3" y="577.5" font-size="18.5" textLength="99.0" lengthAdjust="spacingAndGlyphs" fill="#000">Deoxycholate</text><text x="486.3" y="600.3" font-size="18.5" textLength="125.7" lengthAdjust="spacingAndGlyphs" fill="#000">Taurolithocholate</text><text x="486.3" y="623.0" font-size="18.5" textLength="193.2" lengthAdjust="spacingAndGlyphs" fill="#000">Taurolithocholate 3-sulfate</text><text x="486.3" y="645.8" font-size="18.5" textLength="168.7" lengthAdjust="spacingAndGlyphs" fill="#000">Tauroursodeoxycholate</text><text x="486.3" y="668.6" font-size="18.5" textLength="80.2" lengthAdjust="spacingAndGlyphs" fill="#000">Hyocholate</text><text x="486.3" y="691.3" font-size="18.5" textLength="122.6" lengthAdjust="spacingAndGlyphs" fill="#000">Hyodeoxycholate</text><text x="486.3" y="714.1" font-size="18.5" textLength="188.5" lengthAdjust="spacingAndGlyphs" fill="#000">Taurohyodeoxycholic acid</text><text x="486.3" y="736.8" font-size="18.5" textLength="162.4" lengthAdjust="spacingAndGlyphs" fill="#000">Glycohyodeoxycholate</text><text x="486.3" y="759.6" font-size="18.5" textLength="164.9" lengthAdjust="spacingAndGlyphs" fill="#000">Taurocholenate sulfate</text><text x="16.2" y="351.3" font-size="28" fill="#000">C</text><text transform="translate(51.5,449.5) rotate(-90)" font-size="19.5" text-anchor="middle" textLength="139.5" lengthAdjust="spacingAndGlyphs">Primary bile acid</text><text transform="translate(51.5,646.6) rotate(-90)" font-size="19.5" text-anchor="middle" textLength="157.5" lengthAdjust="spacingAndGlyphs">Secondary bile acid</text><text x="381" y="817" font-size="18" textLength="34" lengthAdjust="spacingAndGlyphs" fill="#000">Low</text><text x="510" y="817" font-size="18" textLength="41" lengthAdjust="spacingAndGlyphs" fill="#000">High</text><text x="4.3" y="22.3" font-size="26.5" fill="#000">A</text><text x="101.2" y="43" font-size="29" textLength="153.5" lengthAdjust="spacingAndGlyphs" fill="#000">Cholesterol</text><text x="103.6" y="285.0" font-size="25.5" text-anchor="end" textLength="29.8" lengthAdjust="spacingAndGlyphs" fill="#000">0.0</text><text x="103.6" y="251.4" font-size="25.5" text-anchor="end" textLength="42.2" lengthAdjust="spacingAndGlyphs" fill="#000">20.0</text><text x="103.6" y="217.8" font-size="25.5" text-anchor="end" textLength="42.2" lengthAdjust="spacingAndGlyphs" fill="#000">40.0</text><text x="103.6" y="184.2" font-size="25.5" text-anchor="end" textLength="42.2" lengthAdjust="spacingAndGlyphs" fill="#000">60.0</text><text x="103.6" y="150.7" font-size="25.5" text-anchor="end" textLength="42.2" lengthAdjust="spacingAndGlyphs" fill="#000">80.0</text><text x="103.6" y="117.1" font-size="25.5" text-anchor="end" textLength="53.6" lengthAdjust="spacingAndGlyphs" fill="#000">100.0</text><text x="103.6" y="83.5" font-size="25.5" text-anchor="end" textLength="53.6" lengthAdjust="spacingAndGlyphs" fill="#000">120.0</text><text x="154" y="92" font-size="24" text-anchor="middle" fill="#000">a</text><text x="212" y="135.0" font-size="26" text-anchor="middle" textLength="12.2" lengthAdjust="spacingAndGlyphs" fill="#000">b</text><text x="272.2" y="112.8" font-size="25.5" text-anchor="middle" textLength="11.2" lengthAdjust="spacingAndGlyphs" fill="#000">c</text><text x="136.8" y="311.5" font-size="26" textLength="38.8" lengthAdjust="spacingAndGlyphs" fill="#000">WT</text><text x="196.4" y="311.5" font-size="26" textLength="36.4" lengthAdjust="spacingAndGlyphs" fill="#000">KO</text><text x="253.3" y="311.5" font-size="26" textLength="39.4" lengthAdjust="spacingAndGlyphs" fill="#000">Het</text><text transform="translate(22.5,172.3) rotate(-90)" font-size="27" text-anchor="middle" textLength="216" lengthAdjust="spacingAndGlyphs">Plasma cholesterol</text><text transform="translate(50.3,178.8) rotate(-90)" font-size="22" text-anchor="middle" textLength="82" lengthAdjust="spacingAndGlyphs">(mg/dL)</text><text x="316.8" y="20.2" font-size="27" fill="#000">B</text><text x="450.4" y="20.4" font-size="23" textLength="34.2" lengthAdjust="spacingAndGlyphs" fill="#000">WT</text><text x="533.2" y="20.4" font-size="23" textLength="34.5" lengthAdjust="spacingAndGlyphs" fill="#000">KO</text><text x="614.2" y="20.4" font-size="23" textLength="39.2" lengthAdjust="spacingAndGlyphs" fill="#000">Het</text><text x="324.8" y="58.3" font-size="25" textLength="91.6" lengthAdjust="spacingAndGlyphs" fill="#000">HMGCR</text><text x="332.2" y="92.6" font-size="25" textLength="82.2" lengthAdjust="spacingAndGlyphs" fill="#000">GAPDH</text><text x="428.5" y="282.7" font-size="25" text-anchor="end" textLength="28.5" lengthAdjust="spacingAndGlyphs" fill="#000">0.0</text><text x="428.5" y="229.2" font-size="25" text-anchor="end" textLength="28.5" lengthAdjust="spacingAndGlyphs" fill="#000">0.5</text><text x="428.5" y="175.8" font-size="25" text-anchor="end" textLength="28.5" lengthAdjust="spacingAndGlyphs" fill="#000">1.0</text><text x="428.5" y="122.3" font-size="25" text-anchor="end" textLength="28.5" lengthAdjust="spacingAndGlyphs" fill="#000">1.5</text><text x="481.8" y="162" font-size="24" text-anchor="middle" fill="#000">a</text><text x="547.8" y="208.6" font-size="23" text-anchor="middle" fill="#000">b</text><text x="609" y="130" font-size="24" text-anchor="middle" fill="#000">a</text><text x="464.5" y="312.2" font-size="26.5" textLength="37.6" lengthAdjust="spacingAndGlyphs" fill="#000">WT</text><text x="529" y="312.2" font-size="26.5" textLength="37.6" lengthAdjust="spacingAndGlyphs" fill="#000">KO</text><text x="590.2" y="312.2" font-size="26.5" textLength="39.2" lengthAdjust="spacingAndGlyphs" fill="#000">Het</text><text transform="translate(365,190) rotate(-90)" font-size="26" text-anchor="middle" textLength="156.5" lengthAdjust="spacingAndGlyphs">Band intensity</text><text transform="translate(388.4,196.6) rotate(-90)" font-size="20.5" text-anchor="middle" textLength="165.5" lengthAdjust="spacingAndGlyphs">(HMGCR/GAPDH)</text>
</svg>
</body></html>
